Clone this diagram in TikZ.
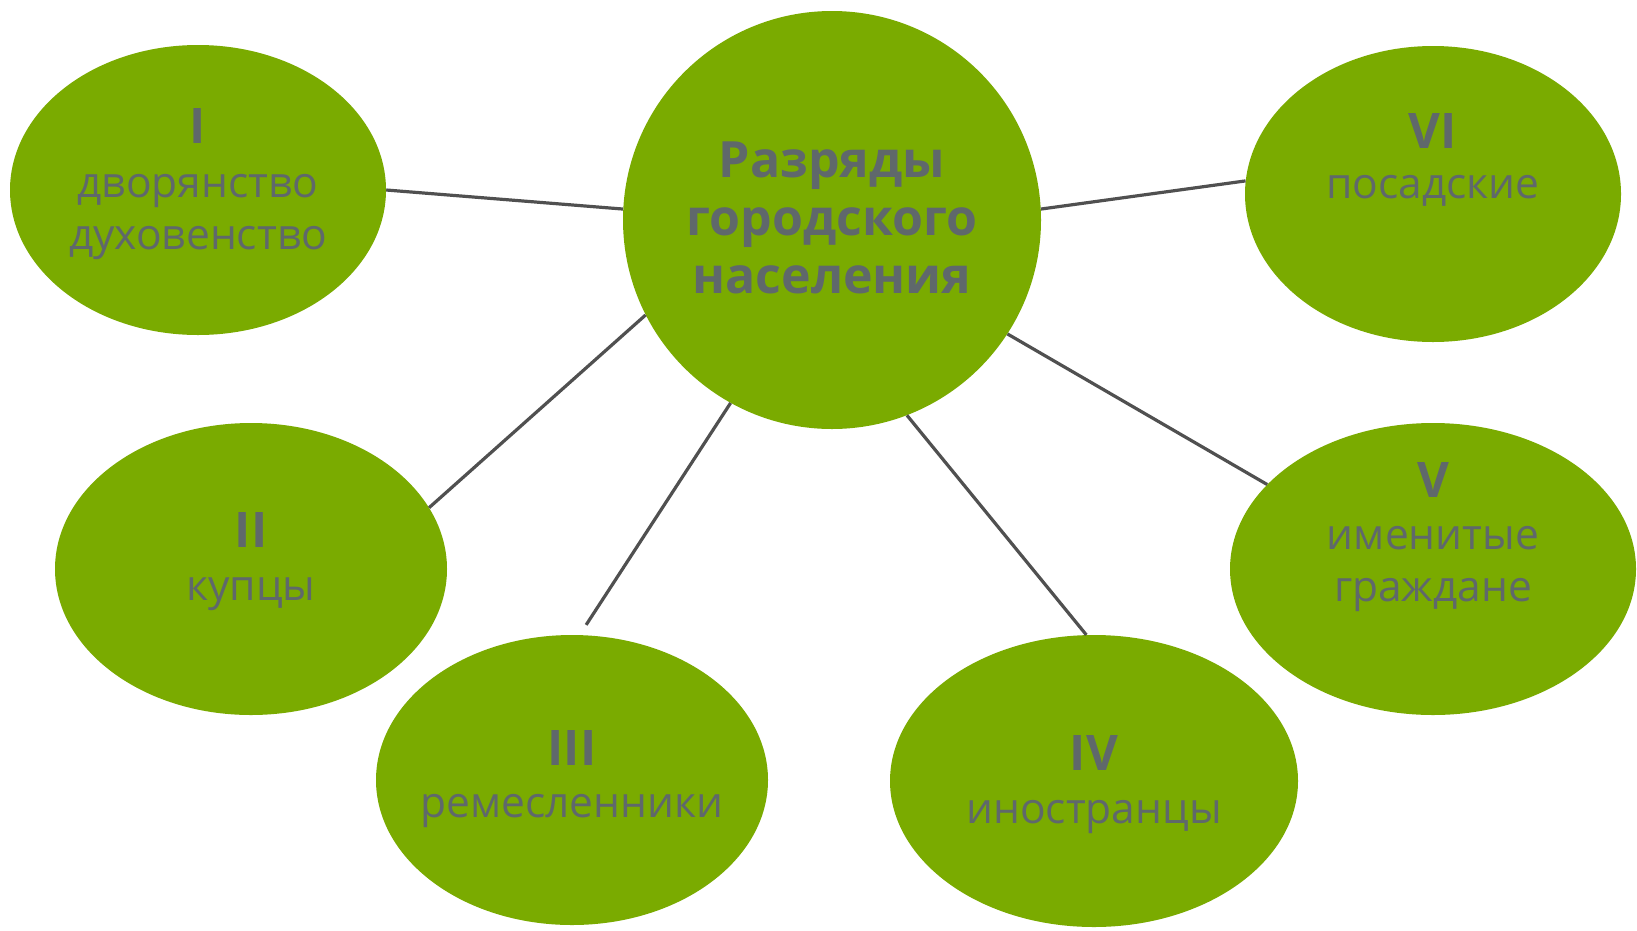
\documentclass[tikz,border=0pt]{standalone}
\usepackage{fontspec}
\setmainfont{Open Sans}
\usetikzlibrary{shapes.geometric}
\definecolor{leaf}{RGB}{122,171,0}
\definecolor{ink}{RGB}{95,104,107}
\definecolor{wire}{RGB}{80,80,80}
\tikzset{
  blob/.style={ellipse, fill=leaf, draw=none, inner sep=0pt},
  hub/.style={circle, fill=leaf, draw=none, inner sep=0pt, minimum size=418pt},
  num/.style={anchor=base, text=ink, inner sep=0pt, font=\fontsize{49}{58}\selectfont\bfseries},
  word/.style={anchor=base, text=ink, inner sep=0pt, font=\fontsize{42.5}{52}\selectfont},
  title/.style={anchor=base, text=ink, inner sep=0pt, font=\fontsize{50}{58}\selectfont\bfseries},
  link/.style={draw=wire, line width=3.2pt}
}
\begin{document}
\begin{tikzpicture}[x=1pt,y=-1pt]
\fill[white] (0,0) rectangle (1637,930);
\useasboundingbox (0,0) rectangle (1637,930);
% nodes
\node[hub] (c) at (832,220) {};
\node[blob, minimum width=376pt, minimum height=290pt] (n1) at (198,190) {};
\node[blob, minimum width=392pt, minimum height=292pt] (n2) at (251,569) {};
\node[blob, minimum width=392pt, minimum height=290pt] (n3) at (572,780) {};
\node[blob, minimum width=408pt, minimum height=292pt] (n4) at (1094,781) {};
\node[blob, minimum width=406pt, minimum height=292pt] (n5) at (1433,569) {};
\node[blob, minimum width=376pt, minimum height=296pt] (n6) at (1433,194) {};
% texts
\node[title] (ct1) at (832,177) {Разряды};
\node[title] (ct2) at (832,235) {городского};
\node[title] (ct3) at (832,293) {населения};
\node[num] (t1a) at (198,143) {I};
\node[word] (t1b) at (198,197) {дворянство};
\node[word] (t1c) at (198,249) {духовенство};
\node[num] (t2a) at (251,547) {II};
\node[word] (t2b) at (251,600) {купцы};
\node[num] (t3a) at (572,765) {III};
\node[word] (t3b) at (572,817) {ремесленники};
\node[num] (t4a) at (1094,770) {IV};
\node[word] (t4b) at (1094,823) {иностранцы};
\node[num] (t5a) at (1433,497) {V};
\node[word] (t5b) at (1433,549) {именитые};
\node[word] (t5c) at (1433,601) {граждане};
\node[num] (t6a) at (1433,148) {VI};
\node[word] (t6b) at (1433,198) {посадские};
% connectors
\draw[link] (c.177) -- (n1.0);
\draw[link] (c.207) -- (n2.19);
\draw[link, shorten >=12pt] (c.241) -- (n3.87);
\draw[link] (c.291) -- (n4.93);
\draw[link] (c.327) -- (n5.153);
\draw[link] (c.3) -- (n6.176);
\end{tikzpicture}
\end{document}
